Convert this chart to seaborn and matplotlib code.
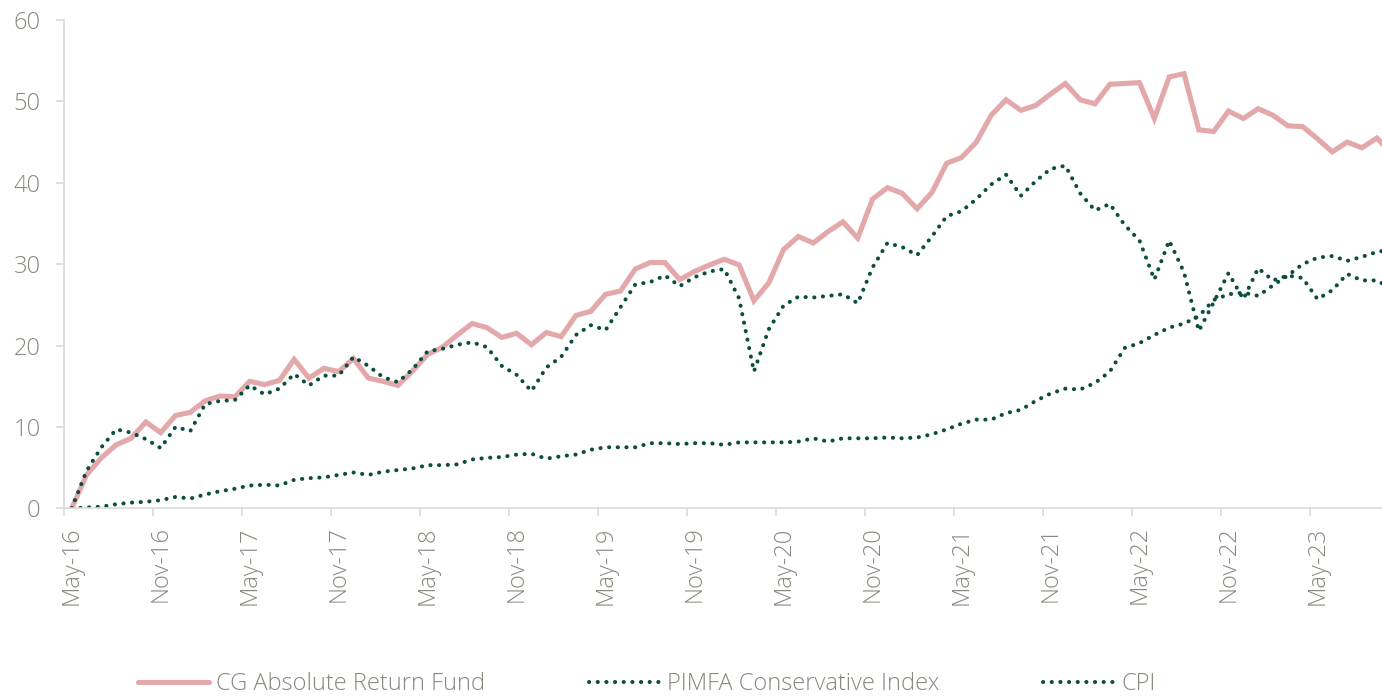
import numpy as np
import pandas as pd
import seaborn as sns
import matplotlib.pyplot as plt

# Monthly cumulative performance (%), May-16 onwards
fund = [0, 4.1, 6.2, 7.8, 8.6, 10.6, 9.3, 11.4, 11.8, 13.2, 13.8, 13.7, 15.6, 15.2, 15.7,
        18.3, 16.0, 17.2, 16.8, 18.4, 16.0, 15.6, 15.1, 16.9, 18.9, 19.8, 21.3, 22.7, 22.2,
        21.0, 21.5, 20.1, 21.6, 21.1, 23.7, 24.2, 26.3, 26.7, 29.4, 30.2, 30.2, 28.1, 29.1,
        29.9, 30.6, 29.9, 25.5, 27.7, 31.8, 33.4, 32.6, 34.0, 35.2, 33.2, 38.0, 39.4, 38.7,
        36.8, 38.8, 42.4, 43.1, 45.0, 48.3, 50.2, 48.9, 49.5, 50.9, 52.2, 50.2, 49.7, 52.1,
        52.2, 52.3, 47.9, 53.0, 53.4, 46.5, 46.3, 48.8, 47.9, 49.1, 48.3, 47.0, 46.9, 45.4,
        43.8, 45.0, 44.3, 45.5, 43.6]
pimfa = [0, 4.6, 7.5, 9.7, 9.3, 8.5, 7.4, 10.0, 9.5, 12.8, 13.2, 13.3, 15.1, 14.0, 14.7,
         16.5, 15.1, 16.3, 16.3, 18.6, 17.5, 16.1, 15.5, 17.1, 19.3, 19.6, 20.1, 20.4, 19.8,
         17.5, 16.4, 14.4, 17.3, 18.6, 21.3, 22.5, 21.9, 24.7, 27.5, 27.8, 28.6, 27.3, 28.4,
         29.1, 29.4, 25.8, 16.8, 22.0, 24.9, 26.0, 25.9, 26.1, 26.3, 25.2, 29.6, 32.6, 32.1,
         31.1, 33.4, 35.9, 36.5, 38.0, 39.8, 41.0, 38.4, 40.2, 41.7, 42.1, 38.7, 36.6, 37.4,
         34.8, 32.9, 28.1, 32.9, 29.0, 21.8, 25.3, 28.9, 25.7, 29.5, 28.0, 28.6, 28.3, 25.7,
         26.8, 28.8, 28.0, 28.0, 27.0]
cpi = [0, 0.1, 0.2, 0.5, 0.7, 0.8, 1.0, 1.4, 1.2, 1.7, 2.1, 2.4, 2.8, 2.9, 2.8,
       3.5, 3.7, 3.8, 4.1, 4.4, 4.1, 4.5, 4.7, 4.9, 5.3, 5.3, 5.4, 6.0, 6.2,
       6.3, 6.6, 6.7, 6.1, 6.4, 6.6, 7.2, 7.5, 7.5, 7.5, 8.0, 8.0, 7.9, 8.0,
       8.0, 7.8, 8.1, 8.1, 8.1, 8.1, 8.2, 8.6, 8.2, 8.6, 8.6, 8.6, 8.7, 8.6,
       8.7, 9.1, 9.7, 10.4, 10.9, 10.9, 11.7, 12.1, 13.2, 14.1, 14.7, 14.6, 15.4, 16.8,
       19.7, 20.3, 21.3, 22.2, 22.7, 23.6, 25.6, 26.3, 26.5, 26.1, 27.4, 28.6, 30.0, 30.8,
       31.0, 30.4, 30.9, 31.5, 31.8]
tick_labels = ["May-16", "Nov-16", "May-17", "Nov-17", "May-18", "Nov-18", "May-19", "Nov-19",
               "May-20", "Nov-20", "May-21", "Nov-21", "May-22", "Nov-22", "May-23"]
series_names = ["CG Absolute Return Fund", "PIMFA Conservative Index", "CPI"]

pink = "#e3a8aa"
green = "#0b4d3e"
grey_txt = "#88887f"
grey_ax = "#d9d9d9"

sns.set_style("white")
plt.rcParams["font.family"] = ["Open Sans", "DejaVu Sans"]

x = np.arange(len(fund))
df = pd.DataFrame({"x": x, "fund": fund, "pimfa": pimfa, "cpi": cpi})

fig = plt.figure(figsize=(13.82, 6.97), dpi=100)
ax = fig.add_axes([64.3 / 1382, 1 - 508.3 / 697, 1 - 64.3 / 1382, (508.3 - 20) / 697])

# fund first so the dotted series sit on top of it
dot = (0, (0.05, 2.1))
sns.lineplot(data=df, x="x", y="fund", ax=ax, color=pink, lw=3.7,
             solid_joinstyle="miter", label=series_names[0])
sns.lineplot(data=df, x="x", y="pimfa", ax=ax, color=green, lw=2.9, linestyle=dot,
             dash_capstyle="round", label=series_names[1])
sns.lineplot(data=df, x="x", y="cpi", ax=ax, color=green, lw=2.9, linestyle=dot,
             dash_capstyle="round", label=series_names[2])

ax.set_xlim(-0.5, 88.35)
ax.set_ylim(0, 60)
ax.set_xlabel("")
ax.set_ylabel("")

for s in ["top", "right"]:
    ax.spines[s].set_visible(False)
for s in ["left", "bottom"]:
    ax.spines[s].set_color(grey_ax)
    ax.spines[s].set_linewidth(1.2)

ax.set_yticks(range(0, 61, 10))
ax.tick_params(axis="y", length=6, width=1.2, color=grey_ax, pad=11,
               labelsize=17, labelcolor=grey_txt, left=True)
ax.set_xticks(np.arange(0, 85, 6))
ax.set_xticklabels(tick_labels, rotation=90, va="top", ha="center")
ax.set_xticks(np.arange(-0.5, 88, 6), minor=True)
ax.tick_params(axis="x", which="major", length=0, pad=13, labelsize=17, labelcolor=grey_txt)
ax.tick_params(axis="x", which="minor", length=6, width=1.2, color=grey_ax, bottom=True)
for t in ax.get_xticklabels() + ax.get_yticklabels():
    t.set_fontweight("light")

h, l = ax.get_legend_handles_labels()
ax.get_legend().remove()
leg = fig.legend(h, l, loc="center",
                 bbox_to_anchor=(647 / 1382, 1 - 684 / 697), ncol=3, frameon=False,
                 fontsize=17, handlelength=3.0, handletextpad=0.3, columnspacing=4.4,
                 labelcolor=grey_txt)
for t in leg.get_texts():
    t.set_fontweight("light")

fig.savefig("out.png", dpi=100)
